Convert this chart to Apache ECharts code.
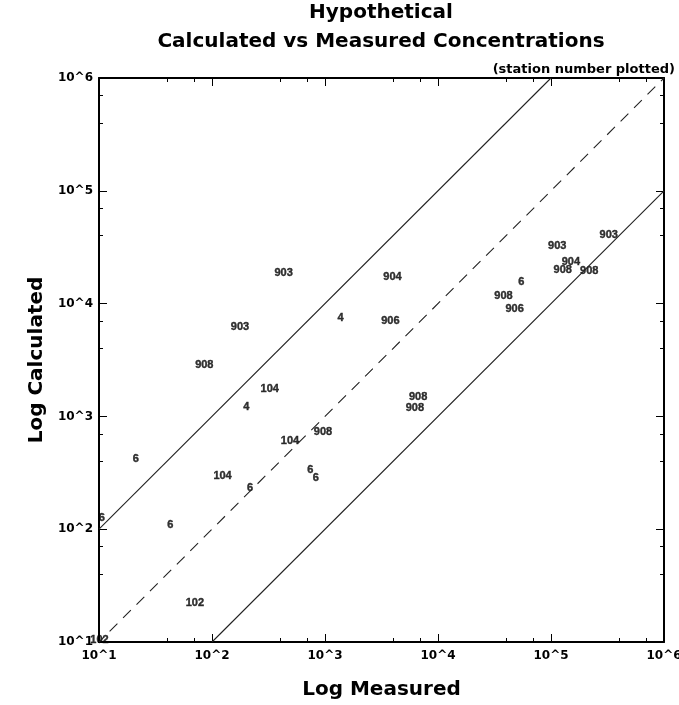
<!DOCTYPE html>
<html>
<head>
<meta charset="utf-8">
<script src="https://cdn.jsdelivr.net/npm/echarts@6/dist/echarts.min.js"></script>
<style>
html,body{margin:0;padding:0;background:#fff;}
#chart{width:679px;height:705px;}
</style>
</head>
<body>
<div id="chart"></div>
<script>
// Station data (measured vs calculated concentrations)
const measured   = [430, 177, 85.5, 1370, 324, 201, 21.2, 124, 217, 10.6, 42.8, 70.6, 10.1, 490, 960, 743, 828, 3960, 3790, 6670, 6240, 324000, 113500, 150000, 127000, 218000, 54500, 38000, 47600];
const calculated = [18800, 6170, 2840, 7500, 1760, 1220, 422, 297, 233, 126, 109, 22.3, 10.4, 610, 723, 335, 286, 17100, 7050, 1480, 1190, 40300, 32600, 23200, 19900, 19600, 15600, 11700, 8950];
const stations   = ['903','903','908','4','104','4','6','104','6','6','6','102','102','104','908','6','6','904','906','908','908','903','903','904','908','908','6','908','906'];

// Reference lines: calculated = factor * measured
const lineFactors = [10, 1, 0.1];
const lineTypes = ['solid', 'dashed', 'solid'];
const axisMin = 10, axisMax = 1e6;
const tickExponents = [1, 2, 3, 4, 5, 6];

const chart = echarts.init(document.getElementById('chart'), null, {renderer: 'canvas'});

const boldFont = 'DejaVu Sans';
const labelFormatter = v => '10^' + Math.round(Math.log10(v));

function makeAxis(position, showLabel) {
  return {
    type: 'log', logBase: 10, min: axisMin, max: axisMax, splitNumber: tickExponents.length - 1,
    position: position,
    axisLine: {show: true, onZero: false, lineStyle: {color: '#000', width: 2}},
    axisTick: {show: true, inside: true, length: 8, lineStyle: {color: '#000', width: 1}},
    minorTick: {show: true, splitNumber: 3, length: 4, lineStyle: {color: '#000', width: 1}},
    splitLine: {show: false},
    minorSplitLine: {show: false},
    axisLabel: {show: showLabel, formatter: labelFormatter, fontFamily: boldFont, fontWeight: 'bold', fontSize: 12, color: '#000'}
  };
}

const xBottom = Object.assign(makeAxis('bottom', true), {
  name: 'Log Measured', nameLocation: 'middle', nameGap: 38,
  nameTextStyle: {fontFamily: boldFont, fontWeight: 'bold', fontSize: 20, color: '#000'}
});
xBottom.axisLabel.margin = 8;
const xTop = makeAxis('top', false);
const yLeft = Object.assign(makeAxis('left', true), {
  name: 'Log Calculated', nameLocation: 'middle', nameGap: 50,
  nameTextStyle: {fontFamily: boldFont, fontWeight: 'bold', fontSize: 20, color: '#000'}
});
yLeft.axisLabel.margin = 6;
const yRight = makeAxis('right', false);

const lineSeries = lineFactors.map((f, i) => {
  const x0 = Math.max(axisMin, axisMin / f);
  const x1 = Math.min(axisMax, axisMax / f);
  return {
    type: 'line', xAxisIndex: 0, yAxisIndex: 0, symbol: 'none', silent: true,
    data: [[x0, x0 * f], [x1, x1 * f]],
    lineStyle: {color: '#222', width: 1.1, type: lineTypes[i] === 'dashed' ? [11, 8] : 'solid', dashOffset: 4}
  };
});

const scatterData = measured.map((m, i) => [m, calculated[i], stations[i]]);

chart.setOption({
  animation: false,
  backgroundColor: '#fff',
  grid: {left: 99, right: 15, top: 78, bottom: 63, containLabel: false, outerBoundsMode: 'none'},
  xAxis: [xBottom, xTop],
  yAxis: [yLeft, yRight],
  graphic: [
    {type: 'text', x: 381, y: 13, style: {text: 'Hypothetical', font: 'bold 20px "DejaVu Sans"', fill: '#000', align: 'center', verticalAlign: 'middle'}},
    {type: 'text', x: 381, y: 42, style: {text: 'Calculated vs Measured Concentrations', font: 'bold 20px "DejaVu Sans"', fill: '#000', align: 'center', verticalAlign: 'middle'}},
    {type: 'text', x: 675, y: 70, style: {text: '(station number plotted)', font: 'bold 13px "DejaVu Sans"', fill: '#000', align: 'right', verticalAlign: 'middle'}}
  ],
  series: lineSeries.concat([{
    type: 'scatter', xAxisIndex: 0, yAxisIndex: 0, clip: false,
    symbol: 'circle', symbolSize: 1,
    itemStyle: {color: 'rgba(0,0,0,0)'},
    data: scatterData,
    label: {
      show: true, position: 'inside',
      formatter: p => p.data[2],
      fontFamily: 'Liberation Sans', fontWeight: 'bold', fontSize: 11, color: '#000',
      textBorderColor: '#000', textBorderWidth: 0.4
    }
  }])
});
</script>
</body>
</html>
